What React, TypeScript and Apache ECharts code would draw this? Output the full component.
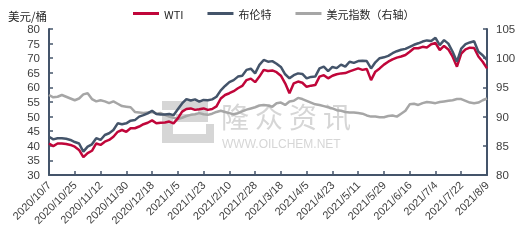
import React, { useEffect, useRef } from 'react';
import * as echarts from 'echarts';

const startDate = '2020/10/7';
const endDate = '2021/8/9';

const sampleDates = [
  '2020/10/7', '2020/10/10', '2020/10/13', '2020/10/16', '2020/10/19', '2020/10/22', '2020/10/25', '2020/10/28', '2020/10/31', '2020/11/3',
  '2020/11/6', '2020/11/9', '2020/11/12', '2020/11/15', '2020/11/18', '2020/11/21', '2020/11/24', '2020/11/27', '2020/11/30', '2020/12/3',
  '2020/12/6', '2020/12/9', '2020/12/12', '2020/12/15', '2020/12/18', '2020/12/21', '2020/12/24', '2020/12/27', '2020/12/30', '2021/1/2',
  '2021/1/5', '2021/1/8', '2021/1/11', '2021/1/14', '2021/1/17', '2021/1/20', '2021/1/23', '2021/1/26', '2021/1/29', '2021/2/1',
  '2021/2/4', '2021/2/7', '2021/2/10', '2021/2/13', '2021/2/16', '2021/2/19', '2021/2/22', '2021/2/25', '2021/2/28', '2021/3/3',
  '2021/3/6', '2021/3/9', '2021/3/12', '2021/3/15', '2021/3/18', '2021/3/21', '2021/3/24', '2021/3/27', '2021/3/30', '2021/4/2',
  '2021/4/5', '2021/4/8', '2021/4/11', '2021/4/14', '2021/4/17', '2021/4/20', '2021/4/23', '2021/4/26', '2021/4/29', '2021/5/2',
  '2021/5/5', '2021/5/8', '2021/5/11', '2021/5/14', '2021/5/17', '2021/5/20', '2021/5/23', '2021/5/26', '2021/5/29', '2021/6/1',
  '2021/6/4', '2021/6/7', '2021/6/10', '2021/6/13', '2021/6/16', '2021/6/19', '2021/6/22', '2021/6/25', '2021/6/28', '2021/7/1',
  '2021/7/4', '2021/7/7', '2021/7/10', '2021/7/13', '2021/7/16', '2021/7/19', '2021/7/22', '2021/7/25', '2021/7/28', '2021/7/31',
  '2021/8/3', '2021/8/6', '2021/8/9',
];

const wti = [
  40.8, 39.9, 40.8, 40.8, 40.6, 40.3, 39.7, 38.6, 36.1, 37.5,
  38.3, 40.8, 40.3, 41.4, 42.0, 43.1, 44.8, 45.4, 44.8, 46.0,
  46.0, 46.6, 47.4, 47.9, 48.7, 47.7, 47.9, 48.0, 48.3, 47.7,
  49.4, 51.7, 52.6, 52.8, 52.3, 52.5, 52.8, 52.3, 52.6, 53.5,
  56.2, 57.4, 58.0, 58.7, 59.7, 60.5, 62.5, 63.0, 61.8, 63.7,
  66.0, 65.6, 65.8, 65.2, 64.0, 61.4, 58.0, 61.4, 62.0, 61.6,
  60.2, 60.6, 60.8, 63.7, 64.2, 63.1, 64.0, 64.5, 64.8, 64.9,
  65.5, 66.0, 66.5, 66.0, 66.3, 62.5, 65.4, 66.5, 67.8, 68.8,
  69.6, 70.2, 70.6, 71.1, 72.2, 73.4, 73.4, 73.9, 73.7, 74.8,
  75.2, 72.8, 74.2, 73.0, 70.5, 67.1, 71.6, 73.0, 73.6, 73.5,
  70.6, 68.8, 66.5,
];

const brent = [
  43.1, 42.2, 42.6, 42.6, 42.4, 42.0, 41.3, 40.8, 38.0, 39.7,
  40.5, 42.6, 42.0, 43.7, 44.3, 45.4, 47.7, 47.4, 47.7, 48.6,
  48.8, 50.0, 50.5, 51.1, 52.0, 50.9, 50.7, 50.7, 50.9, 50.5,
  52.5, 54.5, 56.0, 55.5, 55.9, 55.1, 55.7, 55.6, 55.9, 56.8,
  59.0, 60.5, 61.8, 62.5, 63.7, 64.0, 66.0, 66.4, 64.8, 67.7,
  69.4, 68.8, 69.0, 68.1, 67.0, 64.5, 63.1, 64.2, 64.8, 64.6,
  63.1, 63.6, 63.7, 66.5, 67.1, 65.6, 67.0, 66.6, 67.8, 67.1,
  68.8, 68.4, 69.0, 69.1, 69.0, 66.5, 68.6, 70.0, 70.3, 70.8,
  71.7, 72.4, 72.9, 73.2, 73.9, 74.6, 75.1, 75.7, 76.1, 75.9,
  77.0, 74.5, 76.2, 75.0, 72.2, 68.8, 73.3, 74.8, 75.4, 75.8,
  72.2, 71.0, 69.4,
];

const dxy = [
  93.7, 93.3, 93.4, 93.7, 93.4, 93.1, 92.8, 93.1, 93.8, 94.0,
  93.0, 92.6, 92.8, 92.6, 92.3, 92.6, 92.2, 91.8, 91.7, 91.6,
  90.8, 90.7, 90.6, 90.7, 90.8, 90.5, 90.6, 90.3, 90.0, 89.8,
  89.6, 89.8, 90.1, 90.3, 90.4, 90.6, 90.4, 90.3, 90.5, 90.8,
  91.0, 90.8, 90.6, 90.4, 90.6, 90.9, 91.2, 91.4, 91.6, 91.9,
  92.0, 91.9, 91.7, 92.3, 92.4, 92.0, 92.6, 92.7, 93.2, 93.0,
  92.7, 92.4, 92.1, 92.0, 91.8, 91.6, 91.4, 91.1, 91.0, 90.8,
  90.7, 90.7, 90.6, 90.5, 90.2, 90.0, 90.0, 89.9, 89.9, 90.1,
  90.2, 90.0, 90.5, 91.0, 92.1, 92.2, 92.0, 92.3, 92.5, 92.4,
  92.3, 92.5, 92.6, 92.7, 92.8, 93.0, 93.0, 92.7, 92.4, 92.3,
  92.4, 92.8, 93.1,
];

const seriesNames = ['WTI', '布伦特', '美元指数（右轴）'];
const leftAxisName = '美元/桶';
const leftRange = [30, 80];
const rightRange = [80, 105];
const tickStep = 5;
const labelEveryDays = 18;
const watermarkChars = ['隆', '众', '资', '讯'];
const watermarkUrl = 'WWW.OILCHEM.NET';

function buildDays(start: string, end: string): string[] {
  const [sy, sm, sd] = start.split('/').map(Number);
  const [ey, em, ed] = end.split('/').map(Number);
  const out: string[] = [];
  let t = Date.UTC(sy, sm - 1, sd);
  const e = Date.UTC(ey, em - 1, ed);
  while (t <= e) {
    const dt = new Date(t);
    out.push(`${dt.getUTCFullYear()}/${dt.getUTCMonth() + 1}/${dt.getUTCDate()}`);
    t += 86400000;
  }
  return out;
}

const COLORS = ['#C0063A', '#44546A', '#A6A6A6'];
const AXIS = '#44546A';
const NUM_FONT = '"Liberation Sans", Arial, sans-serif';
const CJK_FONT = '"Noto Sans CJK SC", sans-serif';
const WM = '#d6d6d6';

export default function App() {
  const ref = useRef<HTMLDivElement>(null);
  useEffect(() => {
    if (!ref.current) return;
    const chart = echarts.init(ref.current, null, { renderer: 'svg' });
    const days = buildDays(startDate, endDate);
    const pair = (vals: number[]) => sampleDates.map((d, i) => [d, vals[i]]);

    const yAxisBase = {
      type: 'value',
      interval: tickStep,
      splitLine: { show: false },
      axisLine: { show: true, lineStyle: { color: AXIS, width: 2 } },
      axisTick: { show: true, inside: true, length: 4, lineStyle: { color: AXIS, width: 1.5 } },
      axisLabel: { fontSize: 11.5, color: '#404040', fontFamily: NUM_FONT, margin: 9 },
    };

    const wmChars = watermarkChars.map((c, i) => ({
      type: 'text', silent: true, x: 221 + i * 34, y: 102,
      style: { text: c, fontSize: 28, lineHeight: 28, fill: WM, fontFamily: CJK_FONT, verticalAlign: 'top' },
    }));

    chart.setOption({
      animation: false,
      textStyle: { fontFamily: CJK_FONT },
      grid: { left: 49, right: 33, top: 29, bottom: 71, containLabel: false },
      legend: {
        data: seriesNames,
        left: 128,
        top: 3,
        icon: 'rect',
        itemWidth: 26,
        itemHeight: 3,
        itemGap: 24,
        textStyle: { fontSize: 11, color: '#262626', fontFamily: CJK_FONT },
      },
      graphic: [
        { type: 'rect', silent: true, shape: { x: 162, y: 101, width: 46, height: 9 }, style: { fill: WM } },
        { type: 'rect', silent: true, shape: { x: 198, y: 101, width: 10, height: 21 }, style: { fill: WM } },
        { type: 'rect', silent: true, shape: { x: 176, y: 114, width: 32, height: 8 }, style: { fill: WM } },
        { type: 'rect', silent: true, shape: { x: 162, y: 114, width: 11, height: 29 }, style: { fill: WM } },
        { type: 'rect', silent: true, shape: { x: 162, y: 134, width: 52, height: 9 }, style: { fill: WM } },
        { type: 'rect', silent: true, shape: { x: 206, y: 124, width: 8, height: 19 }, style: { fill: WM } },
        ...wmChars,
        {
          type: 'text', silent: true, x: 222, y: 137.5,
          style: { text: watermarkUrl, fontSize: 12, lineHeight: 12, fill: WM, fontFamily: NUM_FONT, verticalAlign: 'top' },
        },
      ],
      xAxis: {
        type: 'category',
        data: days,
        boundaryGap: false,
        axisLine: { show: true, lineStyle: { color: AXIS, width: 2 } },
        axisTick: { show: true, inside: true, length: 4, interval: labelEveryDays - 1, lineStyle: { color: AXIS, width: 1.5 } },
        axisLabel: { interval: labelEveryDays - 1, rotate: 45, fontSize: 11, color: '#404040', fontFamily: NUM_FONT, margin: 8 },
        splitLine: { show: false },
      },
      yAxis: [
        {
          ...yAxisBase,
          min: leftRange[0],
          max: leftRange[1],
          position: 'left',
          name: leftAxisName,
          nameLocation: 'end',
          nameGap: 7,
          nameTextStyle: { align: 'right', fontSize: 11.5, color: '#262626', fontFamily: CJK_FONT, padding: [0, 2, 0, 0] },
        },
        {
          ...yAxisBase,
          min: rightRange[0],
          max: rightRange[1],
          position: 'right',
        },
      ],
      series: [
        {
          name: seriesNames[0], type: 'line', data: pair(wti), yAxisIndex: 0,
          symbol: 'none', lineStyle: { color: COLORS[0], width: 2.5 }, itemStyle: { color: COLORS[0] }, z: 3,
        },
        {
          name: seriesNames[1], type: 'line', data: pair(brent), yAxisIndex: 0,
          symbol: 'none', lineStyle: { color: COLORS[1], width: 2.5 }, itemStyle: { color: COLORS[1] }, z: 4,
        },
        {
          name: seriesNames[2], type: 'line', data: pair(dxy), yAxisIndex: 1,
          symbol: 'none', lineStyle: { color: COLORS[2], width: 2.5 }, itemStyle: { color: COLORS[2] }, z: 2,
        },
      ],
    });
    return () => chart.dispose();
  }, []);
  return <div ref={ref} style={{ position: 'fixed', left: 0, top: 0, width: 520, height: 246 }} />;
}
